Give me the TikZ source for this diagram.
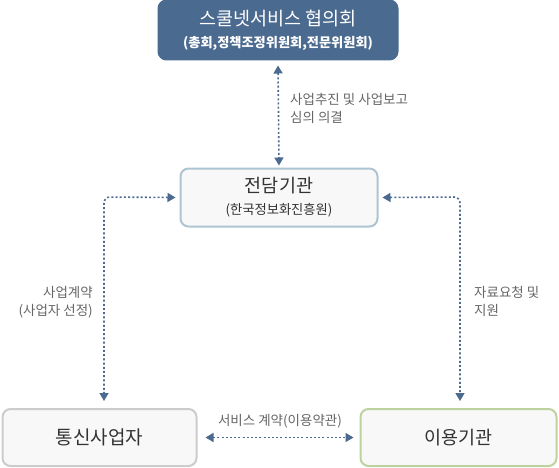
\documentclass[tikz,border=0pt]{standalone}
\usepackage{fontspec}
\setmainfont{Noto Sans CJK KR}
\usetikzlibrary{arrows.meta}
\definecolor{navy}{HTML}{4A6A8F}
\definecolor{lbl}{HTML}{666666}
\definecolor{midb}{HTML}{ADC4D2}
\definecolor{grayb}{HTML}{CCCCCC}
\definecolor{greenb}{HTML}{BCD3A0}
\definecolor{boxfill}{HTML}{F8F8F8}
\tikzset{
  box/.style={rounded corners=8pt, line width=2pt, fill=boxfill, inner sep=0pt, align=center, text=black!80},
  conn/.style={navy, line width=1.6pt, dash pattern=on 2pt off 2.2pt, rounded corners=6pt},
  tips/.style={{Triangle[length=8pt,width=9pt]}-{Triangle[length=8pt,width=9pt]}},
  lab/.style={text=lbl, font=\fontsize{13.5}{18}\selectfont, inner sep=0pt}
}
\begin{document}
\begin{tikzpicture}[x=1pt,y=-1pt]
\useasboundingbox (0,0) rectangle (559,468);
% boxes
\node[box, draw=navy, fill=navy, text=white, minimum width=239pt, minimum height=59pt,
      font=\fontsize{13.2}{22}\selectfont] (top) at (278,30)
  {{\fontsize{18.5}{22}\selectfont 스쿨넷서비스 협의회}\\\bfseries (총회,정책조정위원회,전문위원회)};
\node[box, draw=midb, minimum width=197pt, minimum height=58pt,
      font=\fontsize{13.3}{22}\selectfont] (mid) at (279,197.5)
  {{\fontsize{18.5}{22}\selectfont 전담기관}\\(한국정보화진흥원)};
\node[box, draw=grayb, minimum width=194pt, minimum height=57pt,
      font=\fontsize{19}{22}\selectfont] (tel) at (99.5,437.5) {통신사업자};
\node[box, draw=greenb, minimum width=196pt, minimum height=57pt,
      font=\fontsize{18.5}{22}\selectfont] (use) at (458.5,437.5) {이용기관};
% connectors
\coordinate (lc) at (104,197);
\coordinate (rc) at (460,197);
\coordinate (le) at (104,401);
\coordinate (re) at (460,401);
\draw[conn, tips] ([yshift=-5pt]top.south) -- ([yshift=2pt]mid.north);
\draw[conn, tips] ([xshift=-4pt]mid.west) -- (lc) -- (le);
\draw[conn, tips] ([xshift=4pt]mid.east) -- (rc) -- (re);
\draw[conn, tips] ([xshift=8pt]tel.east) -- ([xshift=-6pt]use.west);
% labels
\node[lab, anchor=north west, align=left] (l1) at (290,93) {사업추진 및 사업보고\\심의 의결};
\node[lab, anchor=north east, align=right] (l2) at (93,286) {사업계약\\(사업자 선정)};
\node[lab, anchor=north west, align=left] (l3) at (474,286) {자료요청 및\\지원};
\node[lab, anchor=south] (l4) at (280,428) {서비스 계약(이용약관)};
\end{tikzpicture}
\end{document}
